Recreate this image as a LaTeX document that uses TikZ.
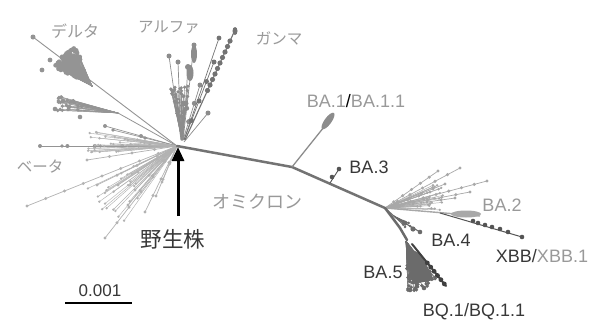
\documentclass[tikz,border=0pt]{standalone}
\usepackage{fontspec}
\setmainfont{Liberation Sans}
\newfontfamily\jp{Noto Sans CJK JP}
\usetikzlibrary{arrows.meta}
\definecolor{cdelta}{gray}{0.58}
\definecolor{calpha}{gray}{0.55}
\definecolor{cgamma}{gray}{0.45}
\definecolor{cbeta}{gray}{0.70}
\definecolor{ctrunk}{gray}{0.45}
\definecolor{cba1}{gray}{0.55}
\definecolor{cba2}{gray}{0.66}
\definecolor{cxbb}{gray}{0.33}
\definecolor{cba4}{gray}{0.42}
\definecolor{cba5}{gray}{0.42}
\definecolor{cbq}{gray}{0.25}
\definecolor{lightlab}{gray}{0.60}
\definecolor{darklab}{gray}{0.22}
% cone of leaves: hubx huby angle spread rmin rmax n color dotradius
\newcommand\conefan[9]{%
  \foreach \k in {1,...,#7}{%
    \pgfmathsetmacro\aa{#3+#4*rand}%
    \pgfmathsetmacro\rr{#5+(#6-#5)*sqrt(rnd)}%
    \pgfmathsetmacro\ex{#1+\rr*cos(\aa)}%
    \pgfmathsetmacro\ey{#2+\rr*sin(\aa)}%
    \draw[#8, line width=0.45pt] (#1,#2) -- (\ex,\ey);
    \fill[#8] (\ex,\ey) circle (#9);
  }}
% bead line: x1 y1 x2 y2 n color dotradius
\newcommand\beadline[7]{%
  \draw[#6, line width=0.7pt] (#1,#2) -- (#3,#4);
  \foreach \k in {1,...,#5}{%
    \pgfmathsetmacro\tt{\k/#5}%
    \fill[#6] ({#1+(#3-#1)*\tt},{#2+(#4-#2)*\tt}) circle (#7);
  }}
\begin{document}
\begin{tikzpicture}[x=1pt,y=-1pt,
  lab/.style={font=\fontsize{18}{18}\selectfont, inner sep=0pt},
  jplab/.style={font=\jp\fontsize{15.5}{15.5}\selectfont, inner sep=0pt, text=lightlab},
  trunk/.style={line width=2.5pt, line join=round, line cap=round}]
\useasboundingbox[fill=white] (0,0) rectangle (605,327);
\pgfmathsetseed{7}
\coordinate (root) at (177,146);

% ---------- Beta (light, lower left)
\conefan{177}{146}{140}{20}{30}{100}{26}{cbeta}{1.3}
\beadline{177}{146}{27}{206}{8}{cbeta}{1.6}
\beadline{177}{146}{87}{160}{4}{cbeta}{1.6}
\beadline{177}{146}{97}{185}{4}{cbeta}{1.6}
\beadline{177}{146}{118}{185}{3}{cbeta}{1.6}
\beadline{177}{146}{135}{190}{3}{cbeta}{1.6}
\beadline{177}{146}{105}{238}{6}{cbeta}{1.6}
\beadline{177}{146}{145}{212}{4}{cbeta}{1.6}
\beadline{177}{146}{128}{205}{4}{cbeta}{1.6}
\beadline{177}{146}{156}{196}{3}{cbeta}{1.6}
\beadline{177}{146}{162}{182}{2}{cbeta}{1.6}

% ---------- Delta (upper left)
\draw[cdelta, line width=0.9pt] (root) -- (33,37);
\fill[cdelta] (33,37) circle (2.5);
\fill[cdelta] (70,63) circle (9);
\fill[cdelta] (77,72) circle (7);
\conefan{92}{86}{227}{21}{14}{42}{90}{cdelta}{2.2}
\fill[cdelta] (50,60) circle (2.4);
\fill[cdelta] (42,70) circle (2.4);
\draw[cdelta, line width=0.8pt] (root) -- (118,113);
\conefan{118}{113}{189}{7}{30}{62}{30}{cdelta}{1.9}
\fill[cdelta] (55,109) circle (2.3);
\fill[cdelta] (63,101) circle (2.3);
\fill[cdelta] (80,117) circle (2.3);
\beadline{177}{146}{105}{126}{2}{cdelta}{2}
\beadline{177}{146}{113}{130}{2}{cdelta}{1.8}
\beadline{177}{146}{40}{146}{5}{cdelta}{2}
\beadline{177}{146}{62}{146}{3}{cdelta}{1.8}
\conefan{177}{146}{182}{8}{20}{90}{30}{cbeta}{1.3}

% ---------- Alpha (upward fan)
\conefan{182}{140}{268}{12}{12}{55}{45}{calpha}{1.8}
\beadline{181}{140}{169}{56}{1}{calpha}{2.5}
\beadline{181}{140}{178}{62}{1}{calpha}{2.5}
\beadline{183}{140}{194}{45}{3}{calpha}{2.5}
\fill[calpha] (194,54) ellipse (3 and 9);
\beadline{183}{140}{188}{67}{2}{calpha}{3}
\fill[calpha] (190,73) ellipse (3.5 and 8);
\beadline{183}{140}{200}{85}{3}{calpha}{2.5}
\beadline{184}{142}{208}{113}{1}{calpha}{2.5}

% ---------- Gamma (darker thick branch)
\draw[cgamma, line width=1.1pt] (185,140) -- (235,30);
\foreach \t in {0.45,0.5,...,0.95}{
  \fill[cgamma] ({185+50*\t},{140-110*\t}) circle (2.6);}
\fill[cgamma] (235,31) ellipse (2.5 and 4);
\beadline{184}{140}{219}{38}{1}{cgamma}{2.4}
\beadline{184}{140}{214}{62}{4}{cgamma}{2.5}

% ---------- Omicron trunk
\coordinate (ba1j) at (292,167);
\coordinate (jct) at (385,208);
\draw[ctrunk, trunk] (root) -- (ba1j) -- (jct);

% BA.1
\draw[cba1, line width=1.3pt] (ba1j) -- (324,127);
\fill[cba1, rotate around={54:(328,121)}] (328,121) ellipse (10 and 3.5);

% BA.3
\draw[cxbb, line width=0.9pt] (330,183) -- (339,169);
\fill[cxbb] (332,177) circle (2.3);
\fill[cxbb] (339,169) circle (2.3);

% BA.2 fan
\conefan{385}{208}{-12}{14}{15}{60}{30}{cba2}{1.3}
\beadline{385}{208}{438}{171}{6}{cba2}{1.7}
\beadline{385}{208}{460}{168}{6}{cba2}{1.7}
\beadline{385}{208}{487}{181}{8}{cba2}{1.7}
\beadline{385}{208}{445}{184}{5}{cba2}{1.7}
\beadline{385}{208}{470}{192}{6}{cba2}{1.7}
\beadline{385}{208}{455}{198}{5}{cba2}{1.7}
\beadline{385}{208}{430}{192}{4}{cba2}{1.7}
\draw[cba2, line width=1.4pt] (jct) -- (480,216);
\fill[cba2] (466,214) ellipse (15 and 3.5);

% XBB
\draw[cxbb, line width=1.0pt] (440,213) -- (522,237);
\foreach \p in {(473,221),(478,223),(485,225),(492,227),(500,229),(508,232),(522,237)}{
  \fill[cxbb] \p circle (2.3);}

% BA.4
\draw[cba4, line width=1.1pt] (jct) -- (396,218) -- (420,232);
\conefan{394}{216}{30}{15}{8}{20}{12}{cba4}{1.4}
\fill[cba4] (413,229) circle (2.6);
\fill[cba4] (420,232) circle (2.3);

% BA.5 / BQ.1
\draw[cba5, trunk] (jct) -- (400,228) -- (407,240);
\fill[cba5] (409,248) -- (421,254) -- (434,280) -- (413,284) -- (409,265) -- cycle;
\conefan{406}{241}{70}{19}{12}{50}{80}{cba5}{1.9}
\draw[cbq, line width=2pt, line cap=round] (412,244) -- (446,286);
\foreach \t in {0.45,0.55,...,1.0}{
  \fill[cbq] ({412+34*\t},{244+42*\t}) circle (2.4);}
\fill[cba5] (410,290) circle (2.3);
\fill[cba5] (424,288) circle (2.3);

% ---------- Arrow for wild type
\coordinate (arrtail) at (178,216);
\coordinate (arrhead) at (178,147);
\draw[black, line width=3pt, -{Triangle[length=14pt,width=12pt]}] (arrtail) -- (arrhead);

% ---------- Scale bar
\coordinate (sb1) at (65,303);
\coordinate (sb2) at (132,303);
\draw[black, line width=1.3pt] (sb1) -- (sb2);
\node[lab, font=\fontsize{17}{17}\selectfont, text=darklab] (sbl) at (100,291) {0.001};

% ---------- Labels
\node[jplab, font=\jp\fontsize{16}{16}\selectfont] (ldelta) at (75,31) {デルタ};
\node[jplab] (lalpha) at (169,27) {アルファ};
\node[jplab] (lgamma) at (279,38) {ガンマ};
\node[jplab] (lbeta) at (40,167) {ベータ};
\node[jplab, font=\jp\fontsize{18}{18}\selectfont] (lomi) at (257,202) {オミクロン};
\node[font=\jp\fontsize{21.5}{21.5}\selectfont, inner sep=0pt, text=darklab] (lwild) at (173,239) {野生株};
\node[lab] (lba1) at (356,101) {\textcolor{lightlab}{BA.1}\textcolor{black}{/}\textcolor{lightlab}{BA.1.1}};
\node[lab, text=darklab] (lba3) at (369,167) {BA.3};
\node[lab, text=lightlab] (lba2) at (502,205) {BA.2};
\node[lab, text=darklab] (lba4) at (451,240) {BA.4};
\node[lab] (lxbb) at (542,256) {\textcolor{darklab}{XBB/}\textcolor{lightlab}{XBB.1}};
\node[lab, text=darklab] (lba5) at (383,272) {BA.5};
\node[lab, text=darklab] (lbq) at (474,312) {BQ.1/BQ.1.1};
\end{tikzpicture}
\end{document}
